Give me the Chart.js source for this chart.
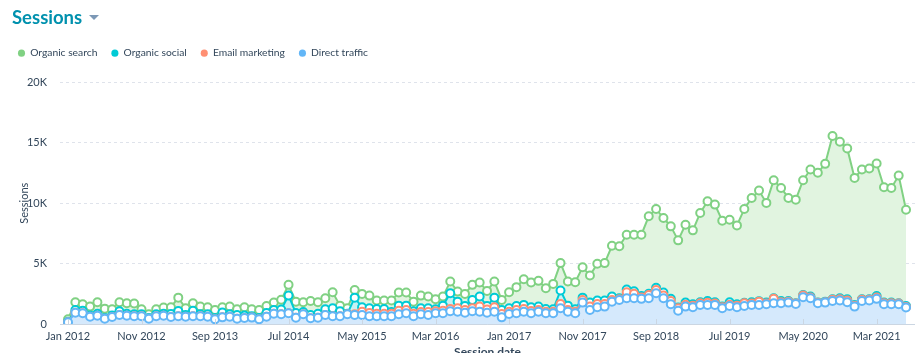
<!DOCTYPE html>
<html>
<head>
<meta charset="utf-8">
<script src="https://cdn.jsdelivr.net/npm/chart.js@4.4.1/dist/chart.umd.min.js"></script>
<style>
  html, body { margin: 0; padding: 0; background: #fff; width: 921px; height: 353px; overflow: hidden; }
  #wrap { position: relative; width: 921px; height: 365px; }
  #title { position: absolute; left: 12px; top: 5px; font: 700 18.5px Lato, "Open Sans", sans-serif; color: #0091ae; line-height: 24px; white-space: nowrap; z-index: 2; }
  #caret { display: inline-block; width: 0; height: 0; border-left: 5px solid transparent; border-right: 5px solid transparent; border-top: 5px solid #7c98b6; margin-left: 7px; vertical-align: 4px; }
  canvas { position: absolute; left: 0; top: 0; }
</style>
</head>
<body>
<div id="wrap">
  <div id="title">Sessions<span id="caret"></span></div>
  <canvas id="c" width="921" height="365"></canvas>
</div>
<script>
// ---- Data (monthly, Jan 2012 .. Jul 2021) ----
const startYear = 2012;
const monthNames = ['Jan','Feb','Mar','Apr','May','Jun','Jul','Aug','Sep','Oct','Nov','Dec'];
const seriesNames = ['Organic search', 'Organic social', 'Email marketing', 'Direct traffic'];
const xTickLabels = ['Jan 2012','Nov 2012','Sep 2013','Jul 2014','May 2015','Mar 2016','Jan 2017','Nov 2017','Sep 2018','Jul 2019','May 2020','Mar 2021'];
const yTickLabels = ['0','5K','10K','15K','20K'];

const organicSearch = [
  220,650,530,740,950,770,520,750,870,890,
  420,300,420,510,560,1100,550,620,640,590,
  660,440,640,480,690,570,660,590,620,800,
  890,950,800,1160,950,910,1330,470,450,640,
  1110,1050,700,700,940,1080,1080,800,1050,970,
  830,750,960,830,1000,1250,1160,1250,1330,830,
  1330,1560,2130,2050,2130,1720,2100,2270,1990,2240,
  2520,2240,3040,3100,4200,4310,4540,4690,5070,6410,
  6520,6170,6000,5550,6450,6120,7390,8240,8080,7110,
  6830,6530,7760,8630,9150,8250,9770,9350,8520,8570,
  9500,10510,10740,11400,13500,12950,12480,10510,10730,10820,
  10960,9540,9490,10560,7970
];
const organicSocial = [
  30,210,210,90,160,60,120,300,160,160,
  160,60,160,160,250,440,140,460,160,190,
  110,400,190,300,200,120,110,290,300,400,
  1460,380,200,280,330,470,660,410,50,1380,
  360,400,390,390,150,420,370,200,300,300,
  170,420,1300,550,340,690,830,290,800,330,
  280,330,340,300,280,220,200,1110,360,200,
  190,330,280,280,280,80,220,200,120,100,
  180,250,180,70,170,130,80,160,100,60,
  200,130,40,100,40,70,50,110,60,20,
  50,70,20,50,50,80,100,80,50,50,
  120,50,50,20,90
];
const emailMarketing = [
  0,0,0,0,0,0,0,0,0,0,
  0,0,0,0,0,0,0,0,0,0,
  0,0,0,0,0,0,0,0,0,0,
  0,0,0,0,0,0,0,0,0,50,
  270,260,210,210,210,300,260,210,200,250,
  160,210,200,280,210,240,420,260,360,280,
  190,270,220,190,140,130,130,360,140,130,
  220,280,280,220,140,60,500,370,120,270,
  270,220,270,200,160,120,140,170,120,80,
  110,120,230,120,270,70,360,80,80,40,
  130,70,30,30,90,110,150,60,90,60,
  120,90,90,70,40
];
const directTraffic = [
  150,940,890,610,690,440,580,750,690,640,
  640,440,640,690,580,640,610,640,640,610,
  390,550,610,440,500,530,390,610,850,800,
  890,520,800,470,520,750,640,640,800,750,
  750,640,640,640,640,800,890,640,800,750,
  890,890,1050,1020,940,1060,1020,940,1020,550,
  830,890,1020,890,1020,890,890,1300,1020,890,
  1770,1160,1380,1440,1850,1990,2130,2130,2080,2130,
  2550,2130,1630,1100,1440,1380,1580,1580,1580,1300,
  1490,1380,1490,1580,1580,1630,1720,1720,1770,1660,
  2220,2130,1720,1770,1910,1940,1800,1440,1910,1940,
  2080,1630,1630,1630,1360
];

const months = directTraffic.map((_, i) => monthNames[i % 12] + ' ' + (startYear + Math.floor(i / 12)));

const FONT = 'Lato, "Open Sans", sans-serif';
const TEXT = '#33475b';

function ds(label, values, line, fill, order) {
  return {
    label,
    data: values.map((v, i) => ({ x: i, y: v })),
    borderColor: line,
    backgroundColor: fill,
    pointBackgroundColor: '#ffffff',
    pointBorderColor: line,
    pointBorderWidth: 2,
    pointRadius: 4,
    borderWidth: 2,
    tension: 0,
    fill: 'origin',
    order
  };
}

const legendMargin = {
  id: 'legendMargin',
  beforeInit(chart) {
    const orig = chart.legend.fit;
    chart.legend.fit = function () { orig.call(this); this.height += 14; };
  }
};

const tickMarks = {
  id: 'tickMarks',
  afterDatasetsDraw(chart) {
    const x = chart.scales.x, ctx = chart.ctx, b = chart.chartArea.bottom;
    ctx.save();
    ctx.strokeStyle = '#cbd6e2';
    ctx.lineWidth = 1;
    ctx.beginPath();
    ctx.moveTo(chart.chartArea.left, Math.round(b) + 0.5);
    ctx.lineTo(chart.chartArea.right, Math.round(b) + 0.5);
    x.ticks.forEach(t => {
      const px = Math.round(x.getPixelForValue(t.value)) + 0.5;
      ctx.moveTo(px, b);
      ctx.lineTo(px, b - 5);
    });
    ctx.stroke();
    ctx.restore();
  }
};

new Chart(document.getElementById('c'), {
  type: 'line',
  data: {
    datasets: [
      ds(seriesNames[0], organicSearch, '#80d183', '#e1f4e0', 4),
      ds(seriesNames[1], organicSocial, '#00cbd6', '#c6f2f4', 3),
      ds(seriesNames[2], emailMarketing, '#ff8f73', '#fde1d8', 2),
      ds(seriesNames[3], directTraffic, '#62b6f7', '#d5e9fc', 1)
    ]
  },
  plugins: [legendMargin, tickMarks],
  options: {
    responsive: false,
    animation: false,
    devicePixelRatio: 1,
    layout: { padding: { top: 34, left: 4, right: 6, bottom: 1 } },
    plugins: {
      legend: {
        position: 'top',
        align: 'start',
        labels: {
          usePointStyle: true,
          pointStyle: 'circle',
          boxWidth: 7,
          boxHeight: 5,
          padding: 14,
          color: TEXT,
          font: { family: FONT, size: 10.3 },
          sort: (a, b) => a.datasetIndex - b.datasetIndex,
          generateLabels(chart) {
            return chart.data.datasets.map((d, i) => ({
              text: d.label, fillStyle: d.borderColor, strokeStyle: d.borderColor,
              lineWidth: 0, pointStyle: 'circle', datasetIndex: i, hidden: false, fontColor: TEXT
            }));
          }
        }
      },
      tooltip: { enabled: false },
      filler: { propagate: false }
    },
    scales: {
      x: {
        type: 'linear',
        min: -1.09,
        max: 115.22,
        z: 1,
        afterBuildTicks(scale) { scale.ticks = xTickLabels.map((_, k) => ({ value: k * 10 })); },
        afterFit(scale) { scale.height = 40; },
        grid: { display: false, drawTicks: false },
        border: { display: false },
        ticks: {
          autoSkip: false,
          maxRotation: 0,
          padding: 6,
          color: TEXT,
          font: { family: FONT, size: 11 },
          callback: (v) => xTickLabels[Math.round(v / 10)]
        },
        title: { display: true, text: 'Session date', color: TEXT, font: { family: FONT, size: 12, weight: 'bold' }, padding: { top: 0, bottom: 5 } }
      },
      y: {
        stacked: true,
        min: 0,
        max: 20000,
        afterBuildTicks(scale) { scale.ticks = yTickLabels.map((_, k) => ({ value: k * 5000 })); },
        afterFit(scale) { scale.width = 56; },
        grid: { color: '#dfe3eb', drawTicks: false },
        border: { display: false, dash: [3, 3] },
        ticks: {
          padding: 13,
          color: TEXT,
          font: { family: FONT, size: 11 },
          callback: (v) => yTickLabels[Math.round(v / 5000)]
        },
        title: { display: true, text: 'Sessions', color: TEXT, font: { family: FONT, size: 11 }, padding: { top: 14, bottom: 0 } }
      }
    }
  }
});
</script>
</body>
</html>
